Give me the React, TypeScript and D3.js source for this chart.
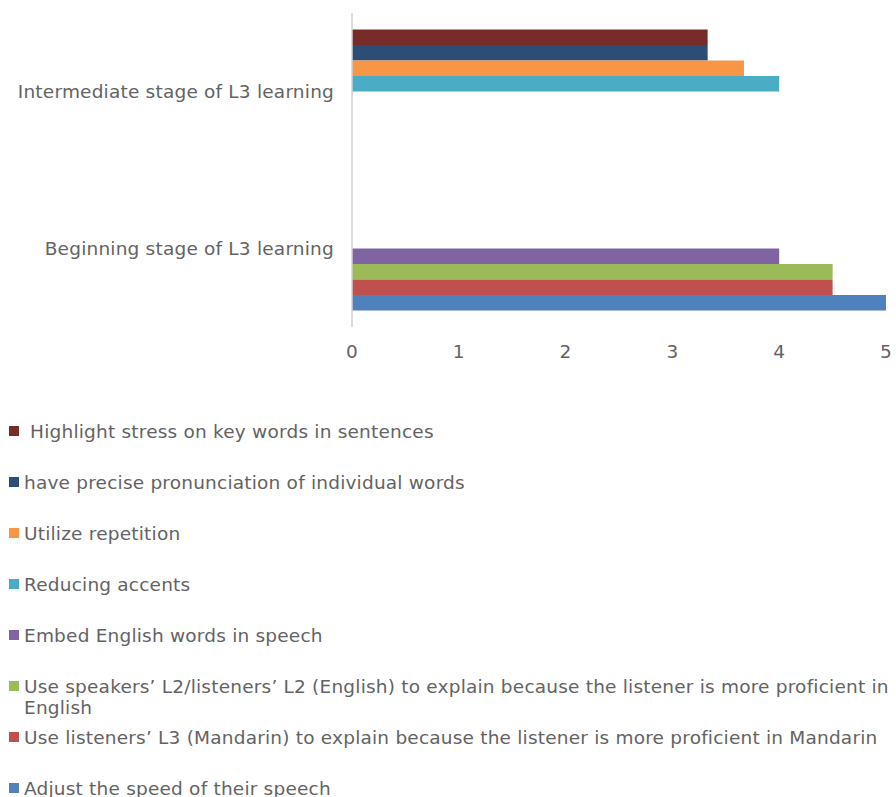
import React, { useMemo } from "react";
import * as d3 from "d3";

// Stages shown on the category axis (top to bottom)
const categories = ["Intermediate stage of L3 learning", "Beginning stage of L3 learning"];

// Strategy series, in cluster order from top to bottom
const seriesNames = [
  " Highlight stress on key words in sentences",
  "have precise pronunciation of individual words",
  "Utilize repetition",
  "Reducing accents",
  "Embed English words in speech",
  "Use speakers\u2019 L2/listeners\u2019 L2 (English) to explain because the listener is more proficient in English",
  "Use listeners\u2019 L3 (Mandarin) to explain because the listener is more proficient in Mandarin",
  "Adjust the speed of their speech",
];

// Mean rating per series for the intermediate stage (null = not rated)
const intermediateValues: (number | null)[] = [3.33, 3.33, 3.67, 4, null, null, null, null];
// Mean rating per series for the beginning stage
const beginningValues: (number | null)[] = [null, null, null, null, 4, 4.5, 4.5, 5];

const seriesColors = [
  "#772C2A",
  "#2C4D75",
  "#F79646",
  "#4BACC6",
  "#8064A2",
  "#9BBB59",
  "#C0504D",
  "#4F81BD",
];

const xTicks = [0, 1, 2, 3, 4, 5];

const W = 896;
const H = 797;
const FONT = "'DejaVu Sans', Verdana, sans-serif";
const FS = 18.5;
const LS = 0.2;
const TEXT = "#636363";

function wrapText(text: string, maxWidth: number): string[] {
  const canvas = document.createElement("canvas");
  const ctx = canvas.getContext("2d");
  if (!ctx) return [text];
  ctx.font = `${FS}px ${FONT}`;
  const measure = (t: string) => ctx.measureText(t).width + t.length * LS;
  const words = text.split(" ");
  const lines: string[] = [];
  let cur = "";
  words.forEach((w, i) => {
    const trial = i === 0 ? w : cur + " " + w;
    if (measure(trial) > maxWidth && cur.trim() !== "") {
      lines.push(cur);
      cur = w;
    } else {
      cur = trial;
    }
  });
  lines.push(cur);
  return lines;
}

export default function App() {
  const x = d3.scaleLinear().domain([0, 5]).range([352, 886]);
  const y0 = d3.scaleBand<string>().domain(categories).range([13, 327]).paddingInner(0).paddingOuter(0);
  const y1 = d3
    .scaleBand<string>()
    .domain(seriesNames)
    .range([0, y0.bandwidth()])
    .paddingInner(0)
    .paddingOuter(1.065);

  const valuesByCategory = [intermediateValues, beginningValues];

  const legendLines = useMemo(() => seriesNames.map((s) => wrapText(s, 880)), []);
  const legendY = d3.scaleLinear().domain([0, 1]).range([431, 482]);

  return (
    <svg
      width={W}
      height={H}
      style={{ position: "absolute", left: 0, top: 0, display: "block", background: "#fff" }}
      fontFamily={FONT}
      letterSpacing={LS}
    >
      <rect x={0} y={0} width={W} height={H} fill="#ffffff" />

      {/* bars */}
      {categories.map((cat, ci) => (
        <g key={cat} transform={`translate(0,${y0(cat)})`}>
          {seriesNames.map((s, si) => {
            const v = valuesByCategory[ci][si];
            if (v == null) return null;
            return (
              <rect
                key={s}
                x={x(0)}
                y={y1(s)}
                width={x(v) - x(0)}
                height={y1.bandwidth()}
                fill={seriesColors[si]}
              />
            );
          })}
        </g>
      ))}

      {/* vertical category axis line */}
      <line x1={x(0)} x2={x(0)} y1={13} y2={327} stroke="#d0d0d0" strokeWidth={1.5} />

      {/* category labels */}
      {categories.map((cat) => (
        <text
          key={cat}
          x={334}
          y={(y0(cat) ?? 0) + y0.bandwidth() / 2}
          textAnchor="end"
          dominantBaseline="central"
          fontSize={FS}
          fill={TEXT}
        >
          {cat}
        </text>
      ))}

      {/* value tick labels */}
      {xTicks.map((t) => (
        <text
          key={t}
          x={x(t)}
          y={351}
          textAnchor="middle"
          dominantBaseline="central"
          fontSize={FS}
          fill={TEXT}
        >
          {t}
        </text>
      ))}

      {/* legend */}
      {seriesNames.map((s, i) => {
        const cy = legendY(i);
        return (
          <g key={s}>
            <rect x={9} y={cy - 5} width={10} height={10} fill={seriesColors[i]} />
            <text fontSize={FS} fill={TEXT} style={{ whiteSpace: "pre" }}>
              {legendLines[i].map((ln, li) => (
                <tspan key={li} x={24} y={cy + li * 21.5} dominantBaseline="central">
                  {ln}
                </tspan>
              ))}
            </text>
          </g>
        );
      })}
    </svg>
  );
}
